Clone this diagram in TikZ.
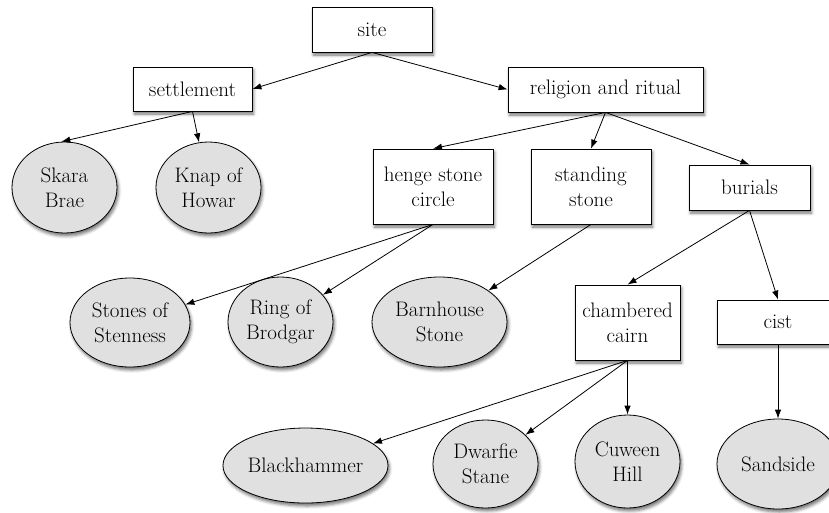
\documentclass[tikz,border=0pt]{standalone}
\usepackage{fontspec}
\usetikzlibrary{arrows.meta,shapes.geometric,shadows.blur}
\definecolor{ellfill}{RGB}{224,224,224}
\tikzset{
  base/.style={draw=black, line width=0.8pt, inner sep=0pt, align=center,
    font=\fontsize{21}{25}\selectfont,
    blur shadow={shadow xshift=1.5pt, shadow yshift=-3pt, shadow blur radius=3pt, shadow opacity=55}},
  boxnode/.style={base, rectangle, fill=white},
  ellnode/.style={base, ellipse, fill=ellfill},
  conn/.style={line width=0.8pt, -{Latex[length=9pt,width=6.5pt]}}
}
\begin{document}
\begin{tikzpicture}[x=1pt,y=-1pt]
\useasboundingbox (0,0) rectangle (829,512);
% boxes
\node[boxnode, minimum width=120pt, minimum height=45pt] (site) at (372,29.5) {site};
\node[boxnode, minimum width=119pt, minimum height=44pt] (settlement) at (192.5,89) {settlement};
\node[boxnode, minimum width=195pt, minimum height=45pt] (religion) at (605.5,89.5) {religion and ritual};
\node[boxnode, minimum width=120pt, minimum height=75pt] (henge) at (433,186.5) {henge stone\\circle};
\node[boxnode, minimum width=120pt, minimum height=75pt] (standing) at (591,186.5) {standing\\stone};
\node[boxnode, minimum width=121pt, minimum height=45pt] (burials) at (749.5,187.5) {burials};
\node[boxnode, minimum width=105pt, minimum height=75pt] (chambered) at (627.5,322.5) {chambered\\cairn};
\node[boxnode, minimum width=122pt, minimum height=44pt] (cist) at (778,322) {cist};
% ellipses
\node[ellnode, minimum width=105pt, minimum height=91pt] (skara) at (64.5,187.5) {Skara\\Brae};
\node[ellnode, minimum width=105pt, minimum height=91pt] (knap) at (208.5,187.5) {Knap of\\Howar};
\node[ellnode, minimum width=120pt, minimum height=89pt] (stones) at (130,322.5) {Stones of\\Stenness};
\node[ellnode, minimum width=105pt, minimum height=90pt] (brodgar) at (280.5,322) {Ring of\\Brodgar};
\node[ellnode, minimum width=135pt, minimum height=90pt] (barnhouse) at (439.5,322) {Barnhouse\\Stone};
\node[ellnode, minimum width=165pt, minimum height=75pt] (blackhammer) at (305.5,465.5) {Blackhammer};
\node[ellnode, minimum width=105pt, minimum height=88pt] (dwarfie) at (485.5,464) {Dwarfie\\Stane};
\node[ellnode, minimum width=105pt, minimum height=93pt] (cuween) at (627.5,461.5) {Cuween\\Hill};
\node[ellnode, minimum width=122pt, minimum height=90pt] (sandside) at (778,464) {Sandside};
% connectors
\draw[conn] (site.south) -- (settlement.east);
\draw[conn] (site.south) -- (religion.west);
\draw[conn] (settlement.south) -- (skara.94);
\draw[conn] (settlement.south) -- (knap);
\draw[conn] (religion.south) -- (henge.north);
\draw[conn] (religion.south) -- (standing.north);
\draw[conn] (religion.south) -- (burials.north);
\draw[conn] (henge.south) -- (stones);
\draw[conn] (henge.south) -- (brodgar);
\draw[conn] (standing.south) -- (barnhouse);
\draw[conn] (burials.south) -- (chambered.north);
\draw[conn] (burials.south) -- (cist.north);
\draw[conn] (chambered.south) -- (blackhammer);
\draw[conn] (chambered.south) -- (dwarfie);
\draw[conn] (chambered.south) -- (cuween.north);
\draw[conn] (cist.south) -- (sandside.north);
\end{tikzpicture}
\end{document}
